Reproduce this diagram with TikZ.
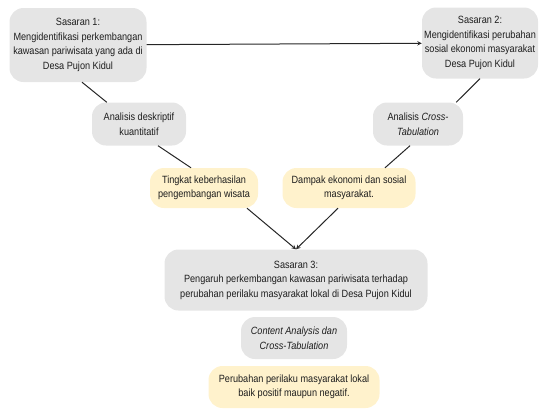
\documentclass[tikz,border=0pt]{standalone}
\usepackage{fontspec}
\setmainfont{Liberation Sans}[FakeStretch=0.87]
\usepackage{tikz}
\definecolor{boxgray}{RGB}{229,229,229}
\definecolor{boxyellow}{RGB}{255,242,204}
\definecolor{txtgray}{RGB}{30,30,30}

\begin{document}
\begin{tikzpicture}[x=1pt,y=-1pt,
  graybox/.style={fill=boxgray, rounded corners=14pt, align=center, inner sep=2pt,
    font=\fontsize{10.5}{14.5}\selectfont, text=txtgray},
  yellowbox/.style={graybox, fill=boxyellow},
  link/.style={line width=1pt, color=black!85}]
\useasboundingbox (0,0) rectangle (541,410);
\node[graybox, minimum width=137pt, minimum height=74pt] (s1) at (78,45) {Sasaran 1:\\Mengidentifikasi perkembangan\\kawasan pariwisata yang ada di\\Desa Pujon Kidul};
\node[graybox, minimum width=116pt, minimum height=71pt] (s2) at (480,43) {Sasaran 2:\\Mengidentifikasi perubahan\\sosial ekonomi masyarakat\\Desa Pujon Kidul};
\node[graybox, minimum width=94pt, minimum height=43pt] (ad) at (139,124) {Analisis deskriptif\\kuantitatif};
\node[graybox, minimum width=90pt, minimum height=43pt] (ct) at (418,124) {Analisis \textit{Cross-}\\\textit{Tabulation}};
\node[yellowbox, minimum width=108pt, minimum height=40pt] (tk) at (204,188) {Tingkat keberhasilan\\pengembangan wisata};
\node[yellowbox, minimum width=133pt, minimum height=40pt] (dp) at (349,188) {Dampak ekonomi dan sosial\\masyarakat.};
\node[graybox, minimum width=263pt, minimum height=61pt] (s3) at (296,280) {Sasaran 3:\\Pengaruh perkembangan kawasan pariwisata terhadap\\perubahan perilaku masyarakat lokal di Desa Pujon Kidul};
\node[graybox, minimum width=106pt, minimum height=42pt] (ca) at (294,338) {\textit{Content Analysis dan}\\\textit{Cross-Tabulation}};
\node[yellowbox, minimum width=171pt, minimum height=42pt] (pb) at (294,387) {Perubahan perilaku masyarakat lokal\\baik positif maupun negatif.};
\draw [->,>=stealth, link] (s1) -- (s2);
\draw [link] ([xshift=4pt] s1.south) -- ([xshift=15pt] ad.north west);
\draw [link] ([xshift=19pt] ad.south) -- ([xshift=-13pt] tk.north);
\draw [link] (s2.south) -- ([xshift=-7pt] ct.north east);
\draw [link] ([xshift=-8pt] ct.south) -- ([xshift=36pt] dp.north);
\draw [->,>=stealth, link] ([xshift=43pt] tk.south) -- (s3.north);
\draw [->,>=stealth, link] ([xshift=-11pt] dp.south) -- (s3.north);
\end{tikzpicture}
\end{document}
